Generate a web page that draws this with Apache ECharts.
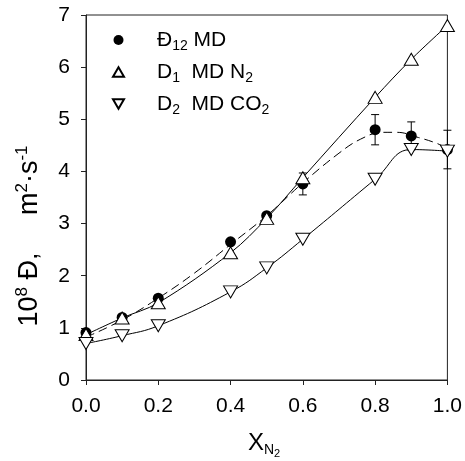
<!DOCTYPE html>
<html><head><meta charset="utf-8">
<script src="https://cdn.jsdelivr.net/npm/echarts@6/dist/echarts.min.js"></script>
<style>html,body{margin:0;padding:0;background:#fff}#c{width:465px;height:461px}</style>
</head><body><div id="c"></div>
<script>
const xs = [0, 0.1, 0.2, 0.4, 0.5, 0.6, 0.8, 0.9, 1.0];
const d12 = [0.91, 1.2, 1.57, 2.65, 3.15, 3.76, 4.8, 4.68, 4.42];
const d12Err = [0, 0, 0, 0, 0, 0.21, 0.29, 0.27, 0.37];
const d1 = [0.87, 1.19, 1.48, 2.44, 3.1, 3.88, 5.42, 6.15, 6.8];
const d2 = [0.7, 0.85, 1.04, 1.69, 2.15, 2.7, 3.85, 4.42, 4.39];
const fitX = [0, 0.1, 0.2, 0.3, 0.4, 0.5, 0.6, 0.7, 0.76, 0.82, 0.86, 0.92, 0.97, 1.0];
const fitY = [0.82, 1.15, 1.57, 2.05, 2.6, 3.15, 3.78, 4.35, 4.62, 4.75, 4.75, 4.65, 4.54, 4.44];
const xTicks = ['0.0', '0.2', '0.4', '0.6', '0.8', '1.0'];
const yTicks = ['0', '1', '2', '3', '4', '5', '6', '7'];
const names = ['Ð12 MD', 'D1 MD N2', 'D2 MD CO2'];

const FONT = '"Liberation Sans", Arial, sans-serif';
const pair = (a, b) => a.map((v, i) => [v, b[i]]);
const chart = echarts.init(document.getElementById('c'), null, {renderer: 'canvas'});

const richBase = {
  m: {fontSize: 21, fontFamily: FONT, color: '#000', lineHeight: 25},
  sub: {fontSize: 14, fontFamily: FONT, color: '#000', padding: [12, 0, 0, 0], lineHeight: 14}
};
const legendFmt = {
  'Ð12 MD': '{m|Ð}{sub|12}{m| MD}',
  'D1 MD N2': '{m|D}{sub|1}{m|  MD N}{sub|2}',
  'D2 MD CO2': '{m|D}{sub|2}{m|  MD CO}{sub|2}'
};

const option = {
  animation: false,
  backgroundColor: '#fff',
  grid: {left: 86, right: 17, top: 15, bottom: 81, show: true, borderColor: '#222', borderWidth: 1, backgroundColor: 'transparent'},
  xAxis: {
    type: 'value', min: 0, max: 1, interval: 0.2,
    axisLine: {lineStyle: {color: '#222', width: 1}},
    axisTick: {show: true, length: 5, inside: false, lineStyle: {color: '#222'}},
    axisLabel: {margin: 16, fontSize: 21, fontFamily: FONT, color: '#000',
      formatter: v => xTicks[Math.round(v / 0.2)]},
    splitLine: {show: false}
  },
  yAxis: {
    type: 'value', min: 0, max: 7, interval: 1,
    axisLine: {show: true, lineStyle: {color: '#222', width: 1}},
    axisTick: {show: true, length: 5, inside: false, lineStyle: {color: '#222'}},
    axisLabel: {margin: 16, fontSize: 21, fontFamily: FONT, color: '#000',
      formatter: v => yTicks[Math.round(v)]},
    splitLine: {show: false}
  },
  legend: {
    orient: 'vertical', left: 107, top: 22, itemGap: 6, itemWidth: 11, itemHeight: 10,
    selectedMode: false,
    data: [
      {name: names[0], icon: 'circle', itemStyle: {color: '#000', opacity: 1}},
      {name: names[1], icon: 'path://M7,0L14,12L0,12Z'},
      {name: names[2], icon: 'path://M0,0L14,0L7,12Z'}
    ],
    formatter: n => legendFmt[n],
    textStyle: {fontSize: 21, fontFamily: FONT, color: '#000', padding: [0, 0, 0, 28], rich: richBase}
  },
  graphic: [
    {type: 'text', x: 30, y: 236, rotation: Math.PI / 2, z: 10,
      style: {
        text: '{m|10}{sup|8}{m| Ð,     m}{sup|2}{m|·s}{sup|-1}',
        align: 'center', verticalAlign: 'middle',
        rich: {
          m: {fontSize: 27, fontFamily: FONT, color: '#000', lineHeight: 31},
          sup: {fontSize: 17, fontFamily: FONT, color: '#000', padding: [0, 0, 16, 0], lineHeight: 17}
        }
      }},
    {type: 'text', x: 264, y: 443, z: 10,
      style: {
        text: '{m|X}{sub|N}{subsub|2}',
        align: 'center', verticalAlign: 'middle',
        rich: {
          m: {fontSize: 24, fontFamily: FONT, color: '#000', lineHeight: 28},
          sub: {fontSize: 14, fontFamily: FONT, color: '#000', padding: [15, 0, 0, 0], lineHeight: 14},
          subsub: {fontSize: 11, fontFamily: FONT, color: '#000', padding: [22, 0, 0, 0], lineHeight: 11}
        }
      }}
  ],
  series: [
    {
      type: 'line', name: 'fit', data: pair(fitX, fitY), smooth: 0.4, symbol: 'none',
      lineStyle: {color: '#000', width: 1, type: [9, 5]}, z: 2, silent: true
    },
    {
      type: 'custom', name: 'err', z: 3, silent: true,
      data: xs.map((x, i) => [x, d12[i] - d12Err[i], d12[i] + d12Err[i]]),
      renderItem: (params, api) => {
        const lo = api.coord([api.value(0), api.value(1)]);
        const hi = api.coord([api.value(0), api.value(2)]);
        if (Math.abs(hi[1] - lo[1]) < 1) return null;
        const w = 4;
        const st = {stroke: '#000', lineWidth: 1};
        return {type: 'group', children: [
          {type: 'line', shape: {x1: lo[0], y1: lo[1], x2: hi[0], y2: hi[1]}, style: st},
          {type: 'line', shape: {x1: lo[0] - w, y1: lo[1], x2: lo[0] + w, y2: lo[1]}, style: st},
          {type: 'line', shape: {x1: hi[0] - w, y1: hi[1], x2: hi[0] + w, y2: hi[1]}, style: st}
        ]};
      }
    },
    {
      type: 'scatter', name: names[0], data: pair(xs, d12), symbol: 'circle', symbolSize: 11,
      itemStyle: {color: '#000', opacity: 1}, z: 4
    },
    {
      type: 'line', name: names[1], data: pair(xs, d1), smooth: 0.35,
      symbol: 'triangle', symbolSize: [14, 12], showSymbol: true,
      itemStyle: {color: '#fff', borderColor: '#000', borderWidth: 1},
      lineStyle: {color: '#000', width: 1}, z: 5
    },
    {
      type: 'line', name: names[2], data: pair(xs, d2), smooth: 0.45,
      symbol: 'triangle', symbolRotate: 180, symbolSize: [14, 12], showSymbol: true,
      itemStyle: {color: '#fff', borderColor: '#000', borderWidth: 1},
      lineStyle: {color: '#000', width: 1}, z: 5
    }
  ]
};
chart.setOption(option);
</script>
</body></html>
